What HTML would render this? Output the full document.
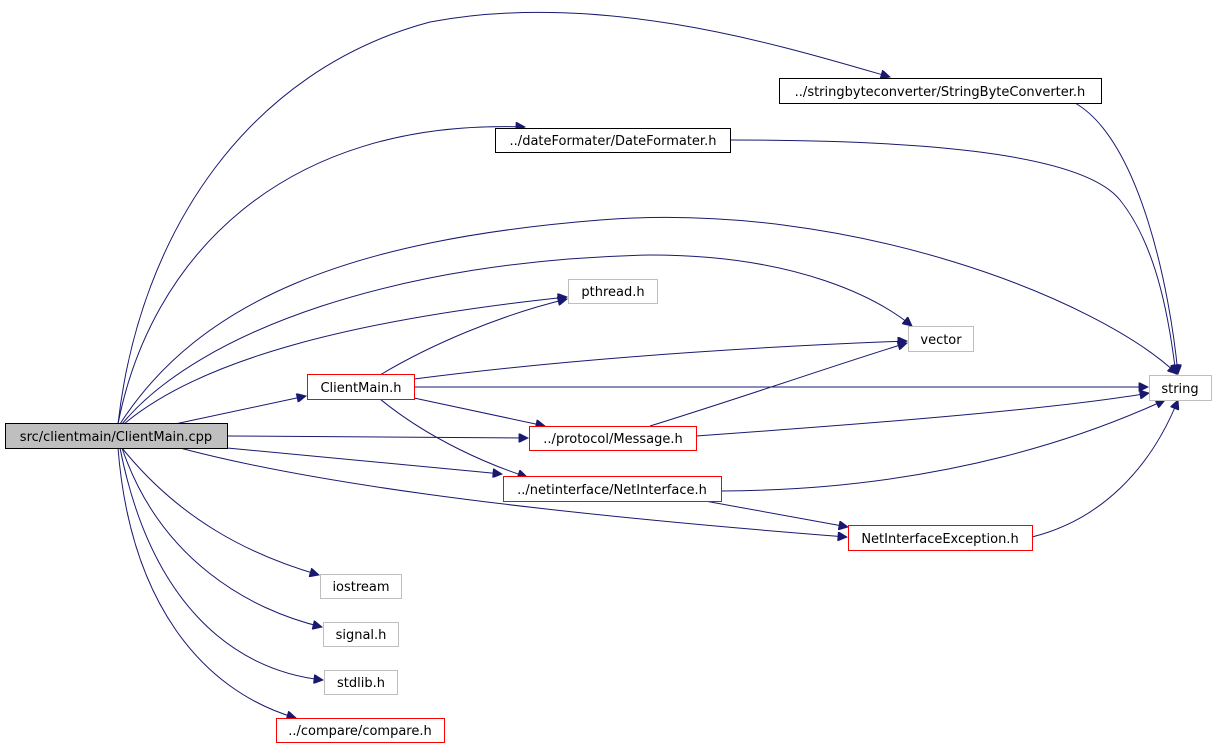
<!DOCTYPE html>
<html><head><meta charset="utf-8"><style>
html,body{margin:0;padding:0;background:#fff;}
svg{display:block;}
text{font-family:"DejaVu Sans",sans-serif;font-size:13px;fill:#000;}
path{fill:none;stroke:#191970;stroke-width:1;}
</style></head><body>
<svg width="1216" height="747" viewBox="0 0 1216 747" xmlns="http://www.w3.org/2000/svg">
<defs>
<marker id="a" viewBox="0 0 10 10" refX="10" refY="5" markerWidth="11" markerHeight="9" markerUnits="userSpaceOnUse" orient="auto">
<path d="M0,0 L10,5 L0,10 z" style="fill:#191970;stroke:#191970"/>
</marker>
</defs>
<g marker-end="url(#a)">
<path d="M118,424 C140,230 250,70 430,22 C600,-10 780,45 890,77"/>
<path d="M118,424 C150,260 280,118 525,127"/>
<path d="M120,424 C200,300 350,240 600,220 C850,200 1100,300 1177,374"/>
<path d="M122,424 C200,330 400,260 650,255 C800,255 880,300 912,326"/>
<path d="M124,424 C200,360 350,320 567,297"/>
<path d="M175,424 L306,396"/>
<path d="M227,436 L528,438"/>
<path d="M227,448 L502,474"/>
<path d="M180,448 C300,480 500,510 847,537"/>
<path d="M122,448 C180,520 250,555 319,575"/>
<path d="M122,448 C160,560 250,610 322,627"/>
<path d="M120,448 C150,600 230,670 323,680"/>
<path d="M118,448 C130,600 200,690 296,718"/>
<path d="M380,375 C430,345 500,315 567,299"/>
<path d="M414,379 C600,355 800,345 907,341"/>
<path d="M414,387 L1148,387"/>
<path d="M414,398 L545,426"/>
<path d="M380,399 C430,440 490,465 527,477"/>
<path d="M1075,103 C1140,140 1170,290 1178,374"/>
<path d="M730,140 C900,140 1080,150 1120,200 C1160,250 1170,330 1176,374"/>
<path d="M650,426 C750,395 850,360 907,343"/>
<path d="M696,436 C850,425 1050,410 1149,393"/>
<path d="M721,491 C950,490 1100,430 1165,400"/>
<path d="M705,501 L848,527"/>
<path d="M1032,537 C1100,520 1150,470 1178,400"/>
</g>
<g stroke-width="1">
<rect x="5.5" y="423.5" width="222" height="25" fill="#bfbfbf" stroke="#000"/>
<text x="116" y="441" text-anchor="middle">src/clientmain/ClientMain.cpp</text>
<rect x="779.5" y="78.5" width="322" height="25" fill="#fff" stroke="#000"/>
<text x="940" y="96" text-anchor="middle">../stringbyteconverter/StringByteConverter.h</text>
<rect x="495.5" y="128.5" width="235" height="24" fill="#fff" stroke="#000"/>
<text x="613" y="145" text-anchor="middle">../dateFormater/DateFormater.h</text>
<rect x="568.5" y="279.5" width="89" height="24" fill="#fff" stroke="#bfbfbf"/>
<text x="613" y="296" text-anchor="middle">pthread.h</text>
<rect x="908.5" y="326.5" width="65" height="25" fill="#fff" stroke="#bfbfbf"/>
<text x="941" y="344" text-anchor="middle">vector</text>
<rect x="307.5" y="374.5" width="107" height="25" fill="#fff" stroke="#f00"/>
<text x="361" y="392" text-anchor="middle">ClientMain.h</text>
<rect x="1149.5" y="375.5" width="62" height="25" fill="#fff" stroke="#bfbfbf"/>
<text x="1180" y="393" text-anchor="middle">string</text>
<rect x="529.5" y="426.5" width="167" height="24" fill="#fff" stroke="#f00"/>
<text x="613" y="443" text-anchor="middle">../protocol/Message.h</text>
<rect x="503.5" y="476.5" width="218" height="25" fill="#fff" stroke="#f00"/>
<text x="612" y="494" text-anchor="middle">../netinterface/NetInterface.h</text>
<rect x="848.5" y="525.5" width="184" height="25" fill="#fff" stroke="#f00"/>
<text x="940" y="543" text-anchor="middle">NetInterfaceException.h</text>
<rect x="320.5" y="574.5" width="81" height="24" fill="#fff" stroke="#bfbfbf"/>
<text x="361" y="591" text-anchor="middle">iostream</text>
<rect x="323.5" y="622.5" width="75" height="24" fill="#fff" stroke="#bfbfbf"/>
<text x="361" y="639" text-anchor="middle">signal.h</text>
<rect x="324.5" y="670.5" width="73" height="24" fill="#fff" stroke="#bfbfbf"/>
<text x="361" y="687" text-anchor="middle">stdlib.h</text>
<rect x="276.5" y="718.5" width="168" height="24" fill="#fff" stroke="#f00"/>
<text x="360" y="735" text-anchor="middle">../compare/compare.h</text>
</g>
</svg>
</body></html>
